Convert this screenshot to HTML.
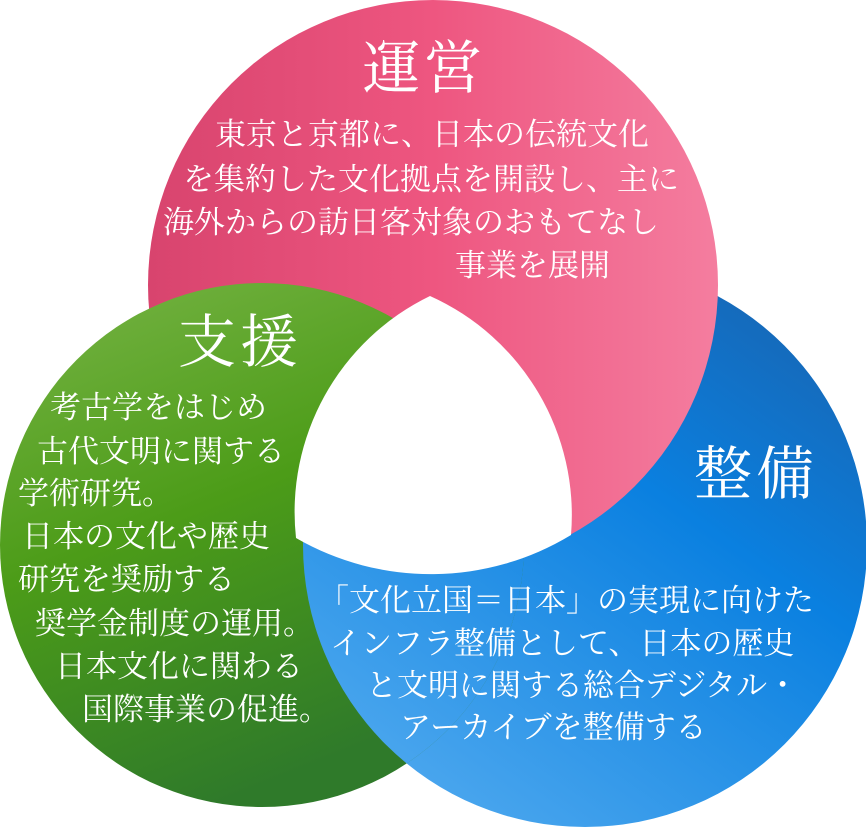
<!DOCTYPE html>
<html><head><meta charset="utf-8"><style>
body{margin:0;width:866px;height:827px;overflow:hidden;background:#fff}
svg{display:block}
text{font-family:"Liberation Serif","Noto Serif CJK JP","Noto Serif CJK SC",serif;fill:#fff}
.t{font-size:58px;letter-spacing:4px}.b{font-size:31px;letter-spacing:0px}
</style></head><body>
<svg width="866" height="827" viewBox="0 0 866 827">
<defs>
<linearGradient id="gp" x1="0" y1="0" x2="1" y2="0"><stop offset="0" stop-color="#d8446e"/><stop offset="0.5" stop-color="#ee5680"/><stop offset="1" stop-color="#f47d9f"/></linearGradient>
<linearGradient id="gg" x1="0" y1="0" x2="0.4" y2="1"><stop offset="0" stop-color="#78b446"/><stop offset="0.5" stop-color="#4c9c18"/><stop offset="1" stop-color="#2f7a2a"/></linearGradient>
<linearGradient id="gb" x1="1" y1="0" x2="0.3" y2="1"><stop offset="0" stop-color="#1b5fa8"/><stop offset="0.45" stop-color="#0a80e0"/><stop offset="1" stop-color="#4aa6ee"/></linearGradient>
<clipPath id="cg"><circle cx="262" cy="545" r="262"/></clipPath>
</defs>
<circle cx="585" cy="545" r="282" fill="url(#gb)"/>
<circle cx="433" cy="285" r="285" fill="url(#gp)"/>
<circle cx="262" cy="545" r="262" fill="url(#gg)"/>
<circle cx="585" cy="545" r="282" fill="url(#gb)" clip-path="url(#cg)"/>
<path d="M430,296 A240,240 0 0 1 571,535 A270,270 0 0 1 296,538 A240,240 0 0 1 430,296Z" fill="#fff"/>
<text class="t" x="362" y="88">運営</text>
<text class="b" x="215" y="145">東京と京都に、日本の伝統文化</text>
<text class="b" x="183" y="190">を集約した文化拠点を開設し、主に</text>
<text class="b" x="163" y="233">海外からの訪日客対象のおもてなし</text>
<text class="b" x="455" y="276">事業を展開</text>
<text class="t" x="178" y="362">支援</text>
<text class="b" x="50" y="418">考古学をはじめ</text>
<text class="b" x="37" y="462">古代文明に関する</text>
<text class="b" x="18" y="504">学術研究。</text>
<text class="b" x="22" y="547">日本の文化や歴史</text>
<text class="b" x="18" y="590">研究を奨励する</text>
<text class="b" x="35" y="634">奨学金制度の運用。</text>
<text class="b" x="55" y="677">日本文化に関わる</text>
<text class="b" x="82" y="720">国際事業の促進。</text>
<text class="t" x="694" y="494">整備</text>
<text class="b" x="318" y="611">「文化立国＝日本」の実現に向けた</text>
<text class="b" x="330" y="654">インフラ整備として、日本の歴史</text>
<text class="b" x="366" y="696">と文明に関する総合デジタル・</text>
<text class="b" x="400" y="738">アーカイブを整備する</text>
</svg>
</body></html>
